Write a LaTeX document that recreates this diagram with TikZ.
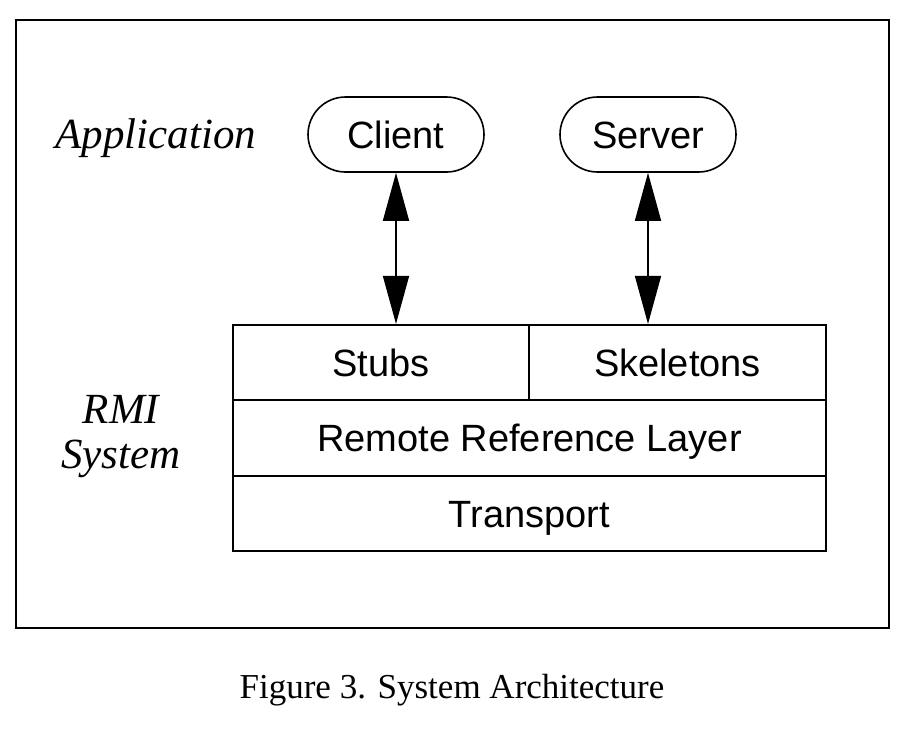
\documentclass[tikz,border=0pt]{standalone}
\usepackage{fontspec}
\setmainfont{Liberation Serif}
\newfontfamily\boxfont{Liberation Sans}
\usetikzlibrary{arrows.meta,shapes.misc}
\begin{document}
\begin{tikzpicture}[x=1pt,y=-1pt,
  lw/.style={line width=1.6pt},
  pill/.style={lw,draw,rounded rectangle,minimum width=176pt,minimum height=75pt,inner sep=0pt,text height=27.2pt,text depth=0pt,font=\boxfont\fontsize{38}{40}\selectfont},
  cell/.style={lw,draw,rectangle,inner sep=0pt,text height=27.2pt,text depth=0pt,font=\boxfont\fontsize{38}{40}\selectfont},
  lbl/.style={align=center},
  dbl/.style={lw,{Triangle[length=48pt,width=26pt]}-{Triangle[length=48pt,width=26pt]}}]
\useasboundingbox (0,0) rectangle (912,734);
\fill[white] (0,0) rectangle (912,734);
\node[lw,draw,minimum width=873pt,minimum height=608pt,inner sep=0pt] (frame) at (452.5,324) {};
\node[pill] (client) at (396,134.5) {Client};
\node[pill] (server) at (648,134.5) {Server};
\node[cell,minimum width=296pt,minimum height=75.5pt] (stubs) at (381,362.5) {Stubs};
\node[cell,minimum width=297pt,minimum height=75.5pt] (skel) at (677.5,362.5) {Skeletons};
\node[cell,minimum width=593pt,minimum height=76pt] (rrl) at (529.5,438) {Remote Reference Layer};
\node[cell,minimum width=593pt,minimum height=75pt] (trans) at (529.5,513.5) {Transport};
\draw[dbl] (client.south) -- (client.south |- stubs.north);
\draw[dbl] (server.south) -- (server.south |- skel.north);
\node[lbl,font=\itshape\fontsize{43}{43}\selectfont] (app) at (156,138) {Application};
\node[lbl,font=\itshape\fontsize{43}{45}\selectfont] (rmi) at (121,437) {RMI\\System};
\node[font=\fontsize{35}{40}\selectfont] (cap) at (452,690) {Figure 3. System Architecture};
\end{tikzpicture}
\end{document}
